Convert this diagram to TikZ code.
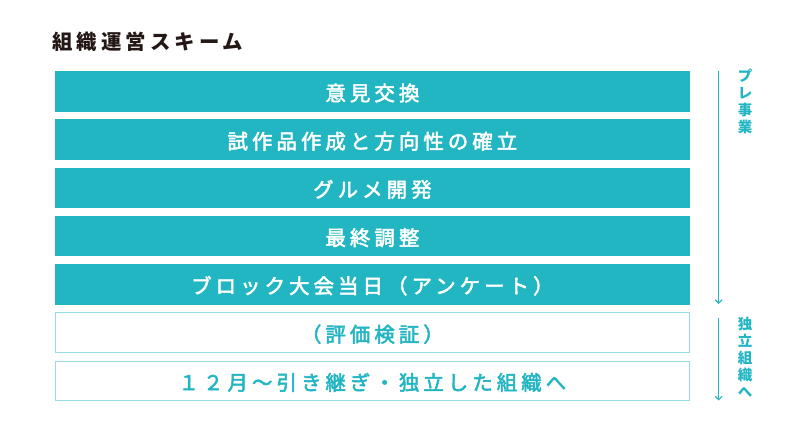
\documentclass[tikz,border=0pt]{standalone}
\usepackage{fontspec}
\usetikzlibrary{arrows.meta}
\newfontfamily\cjk{Noto Sans CJK JP}
\newfontfamily\cjksp[LetterSpace=20]{Noto Sans CJK JP}
\newfontfamily\cjkmed[LetterSpace=20,FakeBold=2.5]{Noto Sans CJK JP}
\definecolor{teal1}{HTML}{22B5C2}
\definecolor{teal2}{HTML}{9ADBE2}
\definecolor{ink}{HTML}{231815}
\tikzset{
  boxtext/.style={font=\cjkmed\fontsize{20.4pt}{20.4pt}\selectfont, text height=19.5pt, text depth=1pt, inner sep=0pt},
  solidbox/.style={boxtext, fill=teal1, draw=none, minimum width=635pt, minimum height=40.7pt, text=white},
  openbox/.style={boxtext, fill=white, draw=teal2, line width=0.9pt, minimum width=634pt, minimum height=39.8pt, text=teal1},
  flow/.style={draw=teal1, line width=1.3pt, -{Straight Barb[length=3.5pt,width=7pt,line width=1.1pt]}},
  vlabel/.style={text=teal1, font=\cjk\bfseries\fontsize{14.5pt}{17pt}\selectfont, align=center, inner sep=0pt, anchor=north},
  titlestyle/.style={text=ink, font=\cjksp\bfseries\fontsize{20.4pt}{20.4pt}\selectfont, anchor=west, inner sep=0pt}
}
\begin{document}
\begin{tikzpicture}[x=1pt,y=-1pt]
\useasboundingbox (0,0) rectangle (800,446);
\node[titlestyle] (title) at (52,41.5) {組織運営スキーム};
\node[solidbox] (b1) at (372.4,91.5) {意見交換};
\node[solidbox] (b2) at (372.4,139.7) {試作品作成と方向性の確立};
\node[solidbox] (b3) at (372.4,187.9) {グルメ開発};
\node[solidbox] (b4) at (372.4,236.1) {最終調整};
\node[solidbox] (b5) at (372.4,284.3) {ブロック大会当日（アンケート）};
\node[openbox] (b6) at (372.4,332.7) {（評価検証）};
\node[openbox] (b7) at (372.4,380.9) {１２月～引き継ぎ・独立した組織へ};
\coordinate (a1s) at (718.7,71);
\coordinate (a1e) at (718.7,304);
\coordinate (a2s) at (718.7,318);
\coordinate (a2e) at (718.7,400.5);
\draw[flow] (a1s) -- (a1e);
\draw[flow] (a2s) -- (a2e);
\node[vlabel] (v1) at (745,68.5) {プ\\レ\\事\\業};
\node[vlabel] (v2) at (745,316.5) {独\\立\\組\\織\\へ};
\end{tikzpicture}
\end{document}
